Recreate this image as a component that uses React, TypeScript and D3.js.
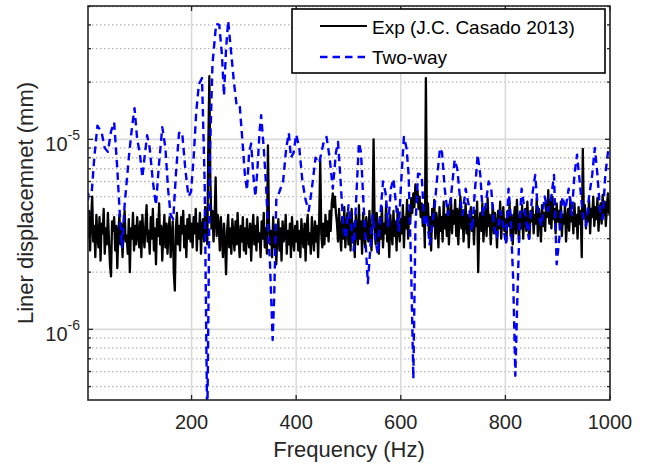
import React from "react";
import * as d3 from "d3";

// ---------- data ----------
const xTickValues = [200, 400, 600, 800, 1000];
const yMajorTicks = [1e-6, 1e-5];
const yMinorTicks = [5e-7, 6e-7, 7e-7, 8e-7, 9e-7, 2e-6, 3e-6, 4e-6, 5e-6, 6e-6, 7e-6, 8e-6, 9e-6, 2e-5, 3e-5, 4e-5, 5e-5];
const yTickLabels = [{ v: 1e-6, exp: "-6" }, { v: 1e-5, exp: "-5" }];

// Experimental spectrum: samples every 2 Hz starting at 2 Hz, values in 1e-6 mm
const expStartHz = 2;
const expStepHz = 2;
const expValues = [
  3.0, 4.2, 2.6, 3.8, 5.0, 2.9, 3.5, 2.4, 4.0, 3.1, 2.7, 3.9, 2.3, 3.6, 3.2, 4.3, 2.5, 3.4, 2.8, 4.1, 3.0, 2.2, 1.9, 3.7, 3.3,
  3.9, 2.6, 3.5, 2.1, 3.2, 4.0, 2.8, 3.6, 2.4, 3.3, 4.2, 2.9, 3.1, 2.5, 3.8, 2.0, 3.4, 3.0, 4.1, 2.6, 3.5, 2.8, 3.9, 3.2, 2.7,
  3.7, 2.4, 4.0, 3.1, 2.7, 3.6, 4.5, 2.9, 3.3, 2.5, 3.9, 3.0, 4.3, 2.6, 3.4, 2.2, 3.8, 3.1, 4.6, 2.8, 3.5, 2.3, 3.2, 4.0, 2.7,
  3.6, 2.5, 3.3, 3.9, 2.4, 3.1, 3.7, 2.0, 1.6, 3.4, 4.1, 2.8, 3.5, 2.6, 3.9, 3.2, 4.2, 2.7, 3.5, 2.4, 3.8, 3.0, 4.0, 2.9, 3.6,
  2.7, 3.9, 3.2, 4.3, 2.6, 3.6, 3.0, 4.1, 2.5, 3.5, 3.8, 2.9, 4.4, 3.3, 2.8, 9.0, 21.5, 6.0, 3.4, 4.2, 2.9, 3.8, 6.3, 3.1, 4.0,
  3.5, 2.6, 3.9, 3.0, 2.4, 3.6, 2.9, 1.95, 3.3, 4.0, 2.7, 3.4, 2.5, 3.8, 3.1, 2.6, 3.7, 2.8, 4.1, 3.0, 2.4, 3.5, 2.9, 3.9, 2.6,
  3.4, 2.5, 3.8, 3.0, 2.7, 3.6, 2.3, 3.3, 4.0, 2.8, 3.5, 2.6, 3.9, 2.9, 3.2, 2.4, 3.7, 3.0, 4.1, 2.7, 3.4, 2.5, 9.3, 3.6, 2.8,
  3.3, 2.4, 3.9, 2.7, 3.5, 2.2, 3.2, 3.8, 2.6, 3.4, 2.3, 3.7, 2.9, 3.1, 4.0, 2.5, 3.3, 2.8, 3.6, 2.4, 3.9, 3.0, 2.6, 3.5, 2.9,
  3.7, 2.6, 3.3, 2.4, 3.8, 3.0, 2.7, 3.6, 2.3, 3.4, 4.0, 2.8, 3.2, 2.5, 3.9, 3.1, 2.6, 3.7, 2.9, 3.5, 2.4, 3.8, 7.8, 3.2, 2.7,
  3.6, 2.8, 4.0, 3.1, 3.7, 2.9, 4.2, 3.3, 4.6, 5.2, 4.4, 5.0, 4.1, 3.6, 2.9, 4.3, 3.2, 2.6, 3.9, 3.0, 4.4, 2.7, 3.5, 4.1, 2.8,
  3.8, 2.6, 4.3, 3.1, 3.6, 2.4, 4.0, 3.3, 2.8, 4.5, 3.0, 3.7, 2.5, 4.1, 3.2, 2.7, 3.9, 3.4, 2.9, 4.2, 3.1, 2.6, 3.8, 10.0, 3.5,
  2.8, 4.1, 3.3, 2.5, 3.9, 3.0, 4.4, 2.7, 3.6, 3.2, 4.6, 2.9, 3.5, 2.4, 4.0, 3.3, 2.8, 4.2, 3.1, 3.7, 2.6, 4.3, 3.4, 2.9, 3.8,
  3.2, 4.5, 2.7, 3.9, 3.4, 4.8, 3.0, 4.2, 3.6, 4.9, 4.1, 5.2, 4.4, 5.8, 4.7, 5.4, 4.3, 5.0, 3.9, 4.6, 3.5, 4.2, 2.7, 21.0, 3.8,
  4.6, 3.2, 3.9, 2.6, 4.3, 3.5, 4.8, 3.0, 4.1, 3.6, 2.7, 4.4, 3.3, 3.9, 2.9, 4.7, 3.4, 4.0, 3.1, 4.5, 2.8, 3.8, 4.9, 3.2, 4.2,
  3.6, 4.8, 3.1, 4.3, 2.8, 3.9, 5.0, 3.4, 4.1, 2.9, 3.7, 4.6, 3.2, 4.0, 2.7, 3.8, 4.4, 3.3, 3.9, 2.8, 4.2, 3.5, 4.7, 2.0, 3.6,
  4.1, 3.3, 4.6, 2.9, 3.8, 4.3, 3.1, 4.9, 3.5, 4.0, 2.8, 3.7, 4.5, 3.2, 4.1, 3.6, 2.7, 4.2, 3.4, 4.7, 3.0, 3.9, 4.4, 3.3, 3.8,
  2.9, 4.2, 3.5, 4.6, 3.1, 4.0, 2.8, 3.7, 4.4, 3.2, 4.8, 3.6, 2.9, 4.1, 3.4, 4.5, 3.0, 3.9, 4.3, 3.3, 4.7, 3.5, 3.0, 4.2, 3.7,
  4.4, 3.2, 4.0, 3.6, 4.9, 3.1, 4.3, 3.8, 2.9, 4.5, 3.5, 4.1, 3.3, 4.7, 3.9, 5.4, 3.6, 4.8, 3.4, 5.0, 3.8, 4.3, 3.2, 4.6, 3.7,
  4.2, 3.4, 4.7, 3.1, 4.0, 3.6, 4.5, 2.9, 3.8, 4.3, 3.3, 4.9, 3.7, 4.1, 3.2, 4.6, 3.5, 4.0, 3.0, 4.4, 3.6, 4.2, 2.4, 8.9, 3.9,
  4.5, 3.4, 4.1, 3.7, 4.8, 3.2, 4.3, 3.9, 5.0, 3.5, 4.4, 3.8, 4.9, 3.3, 4.2, 4.6, 3.6, 5.1, 4.0, 4.7, 3.5, 4.4, 5.2, 4.1, 4.8,
];

// Two-way model: frequency (Hz) and displacement (1e-6 mm)
const twoWayFreq = [
  0, 3, 9, 14, 20, 28, 34, 40, 46, 52, 58, 64, 67, 72, 80, 86, 91, 96, 101, 106, 110, 115, 120, 126, 132, 137, 144, 150, 155, 160,
  165, 170, 176, 182, 188, 194, 199, 204, 209, 214, 220, 225, 230, 235, 240, 247, 253, 258, 262, 266, 270, 275, 281, 286, 292, 297,
  302, 306, 310, 314, 318, 322, 326, 330, 333, 338, 342, 346, 350, 355, 358, 362, 368, 375, 381, 386, 390, 395, 400, 406, 412, 418,
  424, 430, 437, 444, 452, 458, 464, 470, 476, 480, 485, 490, 495, 500, 505, 510, 515, 520, 524, 528, 533, 537, 541, 546, 551, 556,
  561, 566, 571, 576, 581, 586, 591, 596, 600, 606, 611, 615, 620, 624, 628, 633, 640, 645, 650, 655, 660, 665, 670, 675, 679, 684,
  690, 696, 703, 708, 713, 718, 724, 730, 736, 742, 747, 752, 757, 762, 768, 773, 778, 784, 790, 796, 801, 806, 810, 815, 819, 823,
  827, 831, 838, 845, 851, 857, 863, 869, 875, 881, 887, 893, 898, 903, 909, 915, 921, 927, 932, 937, 942, 948, 954, 960, 966, 971,
  976, 981, 986, 991, 996, 1000,
];
const twoWayValues = [
  4.1, 5.2, 5.2, 8.0, 11.8, 10.9, 9.0, 8.6, 11.0, 12.3, 7.0, 3.5, 2.7, 4.5, 8.0, 11.5, 14.6, 10.0, 8.5, 6.3, 8.0, 10.5, 9.0, 6.0, 4.5, 7.0, 11.6, 9.0, 5.5, 4.0,
  3.8, 6.5, 10.8, 10.9, 7.0, 5.0, 5.3, 8.0, 14.0, 19.5, 21.0, 6.0, 0.3, 8.0, 25.0, 40.5, 40.0, 28.0, 17.0, 30.0, 42.0, 30.0, 20.0, 15.2, 15.2, 10.0,
  6.5, 5.4, 8.5, 9.5, 6.5, 5.0, 7.0, 11.0, 13.4, 9.0, 6.0, 3.5, 2.2, 0.88, 1.5, 4.8, 5.3, 6.0, 9.0, 10.8, 8.0, 8.5, 10.6, 9.0, 6.0, 4.8,
  4.2, 5.5, 8.0, 7.5, 9.5, 10.3, 8.0, 5.5, 8.5, 9.7, 6.0, 3.5, 3.0, 4.5, 3.6, 2.6, 5.0, 9.6, 8.5, 5.0, 2.8, 1.75, 2.5, 4.0, 3.0, 2.5,
  4.0, 6.0, 5.2, 3.5, 5.5, 6.2, 4.5, 3.3, 5.5, 10.3, 9.0, 6.5, 2.0, 0.55, 3.5, 6.6, 6.5, 3.5, 4.0, 2.8, 3.5, 4.5, 6.5, 9.0, 8.5, 5.5,
  4.0, 5.0, 7.8, 7.0, 5.0, 4.0, 5.5, 4.5, 3.3, 5.5, 8.3, 6.5, 4.0, 4.5, 6.0, 5.5, 3.5, 3.0, 4.2, 3.5, 2.8, 5.5, 4.0, 1.8, 0.57, 1.5,
  3.5, 5.5, 4.0, 3.0, 5.0, 6.5, 4.0, 3.5, 5.0, 4.2, 4.8, 6.5, 2.2, 3.0, 5.0, 4.3, 5.5, 4.0, 6.5, 8.3, 6.0, 4.0, 3.5, 5.0, 6.5, 9.0,
  6.5, 4.2, 3.8, 6.5, 8.5, 9.0,
];

const legendLabels = ["Exp (J.C. Casado 2013)", "Two-way"];
const unit = 1e-6;

// ---------- layout ----------
const W = 646;
const H = 468;
const plot = { left: 88, right: 610, top: 6, bottom: 400 };
const FONT = "'Liberation Sans', Arial, Helvetica, sans-serif";
const TEXT = "#262626";

export default function App() {
  const x = d3.scaleLinear().domain([2, 1000]).range([plot.left, plot.right]);
  const y = d3.scaleLog().domain([4.25e-7, 5.03e-5]).range([plot.bottom, plot.top]);

  const expPts: [number, number][] = expValues.map((v, i) => [expStartHz + i * expStepHz, v * unit]);
  const twoPts: [number, number][] = twoWayFreq.map((f, i) => [f, twoWayValues[i] * unit]);

  const line = d3
    .line<[number, number]>()
    .x((d) => x(d[0]))
    .y((d) => y(d[1]));

  const pw = plot.right - plot.left;
  const ph = plot.bottom - plot.top;

  return (
    <svg
      width={W}
      height={H}
      style={{ position: "absolute", left: 0, top: 0, background: "#fff" }}
      fontFamily={FONT}
    >
      <defs>
        <clipPath id="plotClip">
          <rect x={plot.left} y={plot.top} width={pw} height={ph} />
        </clipPath>
      </defs>
      <rect x={0} y={0} width={W} height={H} fill="#fff" />
      <rect x={plot.left} y={plot.top} width={pw} height={ph} fill="#fff" />

      {/* minor grid (dotted) */}
      {yMinorTicks.map((v) => (
        <line
          key={"mg" + v}
          x1={plot.left}
          x2={plot.right}
          y1={y(v)}
          y2={y(v)}
          stroke="#b4b4b4"
          strokeWidth={1.3}
          strokeDasharray="1.5,2.5"
        />
      ))}
      {/* major grid */}
      {yMajorTicks.map((v) => (
        <line key={"yg" + v} x1={plot.left} x2={plot.right} y1={y(v)} y2={y(v)} stroke="#dadada" strokeWidth={1.6} />
      ))}
      {xTickValues.map((v) => (
        <line key={"xg" + v} x1={x(v)} x2={x(v)} y1={plot.top} y2={plot.bottom} stroke="#dadada" strokeWidth={1.6} />
      ))}

      {/* data */}
      <g clipPath="url(#plotClip)">
        <path d={line(expPts) || ""} fill="none" stroke="#000" strokeWidth={2.3} strokeLinejoin="round" />
        <path
          d={line(twoPts) || ""}
          fill="none"
          stroke="#0000ff"
          strokeWidth={2.4}
          strokeDasharray="7.5,5"
          strokeLinejoin="round"
        />
      </g>

      {/* ticks */}
      {xTickValues.map((v) => (
        <g key={"xt" + v}>
          <line x1={x(v)} x2={x(v)} y1={plot.bottom} y2={plot.bottom - 5} stroke={TEXT} strokeWidth={1.3} />
          <line x1={x(v)} x2={x(v)} y1={plot.top} y2={plot.top + 5} stroke={TEXT} strokeWidth={1.3} />
          <text x={x(v)} y={429} textAnchor="middle" fontSize={20} fill={TEXT}>
            {v}
          </text>
        </g>
      ))}
      {[...yMajorTicks, ...yMinorTicks].map((v) => {
        const len = yMajorTicks.includes(v) ? 5 : 3;
        return (
          <g key={"yt" + v}>
            <line x1={plot.left} x2={plot.left + len} y1={y(v)} y2={y(v)} stroke={TEXT} strokeWidth={1.3} />
            <line x1={plot.right} x2={plot.right - len} y1={y(v)} y2={y(v)} stroke={TEXT} strokeWidth={1.3} />
          </g>
        );
      })}
      {yTickLabels.map((t) => (
        <text key={"yl" + t.v} x={80} y={y(t.v) + 12} textAnchor="end" fill={TEXT} fontSize={20}>
          <tspan>10</tspan>
          <tspan fontSize={14} dy={-11}>
            {t.exp}
          </tspan>
        </text>
      ))}

      {/* frame */}
      <rect x={plot.left} y={plot.top} width={pw} height={ph} fill="none" stroke={TEXT} strokeWidth={1.6} />

      {/* axis titles */}
      <text x={(plot.left + plot.right) / 2} y={457} textAnchor="middle" fontSize={22} fill={TEXT}>
        Frequency (Hz)
      </text>
      <text
        transform={`translate(33, ${(plot.top + plot.bottom) / 2}) rotate(-90)`}
        textAnchor="middle"
        fontSize={22}
        fill={TEXT}
      >
        Liner displacemnet (mm)
      </text>

      {/* legend */}
      <g>
        <rect x={292} y={9} width={313} height={64} fill="#fff" stroke="#000" strokeWidth={1.6} />
        <line x1={320} x2={367} y1={26} y2={26} stroke="#000" strokeWidth={2} />
        <text x={372} y={34} fontSize={19} fill="#000">
          {legendLabels[0]}
        </text>
        <line x1={320} x2={367} y1={57} y2={57} stroke="#0000ff" strokeWidth={2.4} strokeDasharray="7.5,5" />
        <text x={372} y={64} fontSize={19} fill="#000">
          {legendLabels[1]}
        </text>
      </g>
    </svg>
  );
}
